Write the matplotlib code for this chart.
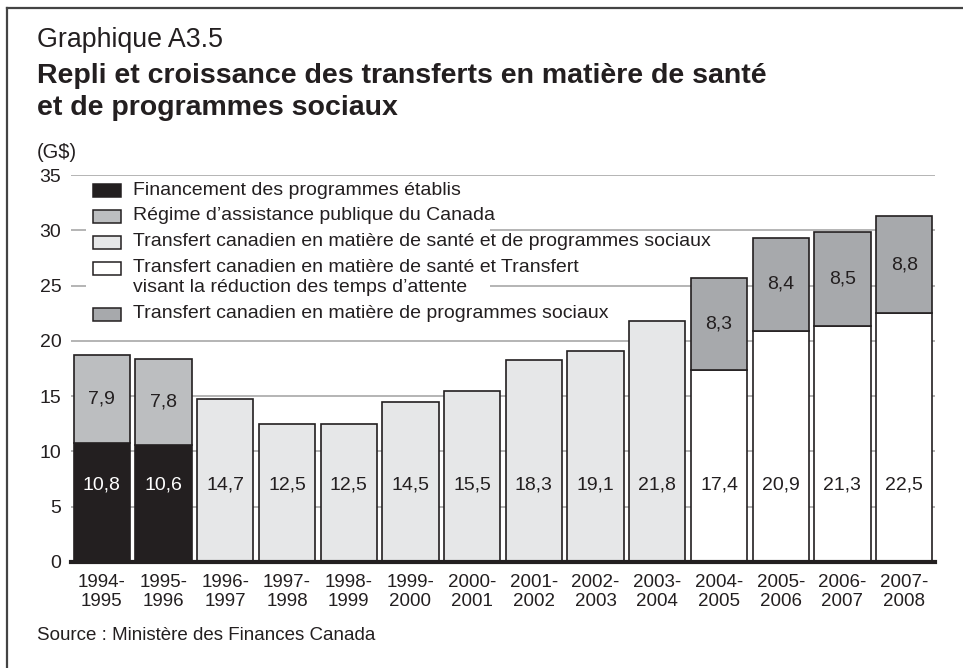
import numpy as np
import matplotlib
matplotlib.use("Agg")
import matplotlib.pyplot as plt
from matplotlib.patches import Rectangle
from matplotlib.lines import Line2D

plt.rcParams['font.family'] = ['Liberation Sans', 'DejaVu Sans']

years = ["1994-\n1995", "1995-\n1996", "1996-\n1997", "1997-\n1998", "1998-\n1999",
         "1999-\n2000", "2000-\n2001", "2001-\n2002", "2002-\n2003", "2003-\n2004",
         "2004-\n2005", "2005-\n2006", "2006-\n2007", "2007-\n2008"]

fpe = [10.8, 10.6, 0, 0, 0, 0, 0, 0, 0, 0, 0, 0, 0, 0]
rapc = [7.9, 7.8, 0, 0, 0, 0, 0, 0, 0, 0, 0, 0, 0, 0]
tcsps = [0, 0, 14.7, 12.5, 12.5, 14.5, 15.5, 18.3, 19.1, 21.8, 0, 0, 0, 0]
tcs = [0, 0, 0, 0, 0, 0, 0, 0, 0, 0, 17.4, 20.9, 21.3, 22.5]
tcps = [0, 0, 0, 0, 0, 0, 0, 0, 0, 0, 8.3, 8.4, 8.5, 8.8]

legend_labels = ["Financement des programmes établis",
                 "Régime d’assistance publique du Canada",
                 "Transfert canadien en matière de santé et de programmes sociaux",
                 "Transfert canadien en matière de santé et Transfert\nvisant la réduction des temps d’attente",
                 "Transfert canadien en matière de programmes sociaux"]

ink = "#231f20"
colors = [ink, "#bcbec0", "#e6e7e8", "#ffffff", "#a7a9ac"]

W, H = 963, 668
fig = plt.figure(figsize=(W / 100, H / 100), dpi=100)


def fx(x):
    return x / W


def fy(y):
    return 1 - y / H


ax = fig.add_axes([fx(71), fy(562), fx(935) - fx(71), fy(175) - fy(562)])

x = np.arange(len(years))
bw = 0.91
kw = dict(width=bw, edgecolor=ink, linewidth=1.2, zorder=3)

# bottom segments: the first series present in each column
bottom_vals = [a + b + c for a, b, c in zip(fpe, tcsps, tcs)]
ax.bar(x, fpe, color=colors[0], **kw)
ax.bar(x, tcsps, color=colors[2], **kw)
ax.bar(x, tcs, color=colors[3], **kw)
ax.bar(x, rapc, bottom=fpe, color=colors[1], **kw)
ax.bar(x, tcps, bottom=tcs, color=colors[4], **kw)

label_y = 7
for i in range(len(years)):
    base = bottom_vals[i]
    if base > 0:
        col = "white" if fpe[i] > 0 else ink
        ax.text(i, label_y, f"{base:.1f}".replace(".", ","), ha="center", va="center",
                fontsize=14, color=col, zorder=5)
    top = rapc[i] + tcps[i]
    if top > 0:
        ax.text(i, base + top / 2, f"{top:.1f}".replace(".", ","), ha="center", va="center",
                fontsize=14, color=ink, zorder=5)

ax.set_xlim(-0.5, 13.5)
ax.set_ylim(0, 35)
ax.set_yticks(range(0, 36, 5))
ax.set_xticks(x)
ax.set_xticklabels(years, fontsize=13.5, color=ink, linespacing=1.2)
ax.tick_params(axis="y", length=0, pad=7, labelsize=14, labelcolor=ink)
ax.tick_params(axis="x", length=0, pad=8.5)
ax.grid(axis="y", color="#a8a8a8", linewidth=1.2, zorder=0)
ax.set_axisbelow(True)
for s in ["left", "right", "top"]:
    ax.spines[s].set_visible(False)
ax.spines["bottom"].set_linewidth(3)
ax.spines["bottom"].set_color(ink)
ax.spines["bottom"].set_zorder(6)

# white area behind the legend that hides the gridlines
fig.add_artist(Rectangle((fx(86), fy(300)), fx(490) - fx(86), fy(205) - fy(300),
                         transform=fig.transFigure, facecolor="white", edgecolor="none", zorder=2))

# legend
rows = [190, 216, 242, 268, 314]
for lab, col, yc in zip(legend_labels, colors, rows):
    fig.add_artist(Rectangle((fx(93), fy(yc + 6.5)), fx(121) - fx(93), fy(yc - 6.5) - fy(yc + 6.5),
                             transform=fig.transFigure, facecolor=col, edgecolor=ink,
                             linewidth=1.1, zorder=3))
    for k, ln in enumerate(lab.split("\n")):
        fig.text(fx(133), fy(yc + 19 * k), ln, fontsize=14, color=ink, ha="left", va="center", zorder=4)

# titles
fig.text(fx(37), fy(47), "Graphique A3.5", fontsize=19.3, color=ink, va="baseline")
fig.text(fx(37), fy(83), "Repli et croissance des transferts en matière de santé",
         fontsize=20.5, fontweight="bold", color=ink, va="baseline")
fig.text(fx(37), fy(115), "et de programmes sociaux",
         fontsize=20.5, fontweight="bold", color=ink, va="baseline")
fig.text(fx(37), fy(152), "(G$)", fontsize=14.5, color=ink, va="center")
fig.text(fx(37), fy(636), "Source : Ministère des Finances Canada", fontsize=13.5, color=ink, va="center")

# outer frame
fig.add_artist(Line2D([fx(7), fx(7)], [fy(668), fy(8)], transform=fig.transFigure, color="#444444", linewidth=1.6))
fig.add_artist(Line2D([fx(7), fx(963)], [fy(8), fy(8)], transform=fig.transFigure, color="#444444", linewidth=1.6))

fig.savefig("out.png", dpi=100)
